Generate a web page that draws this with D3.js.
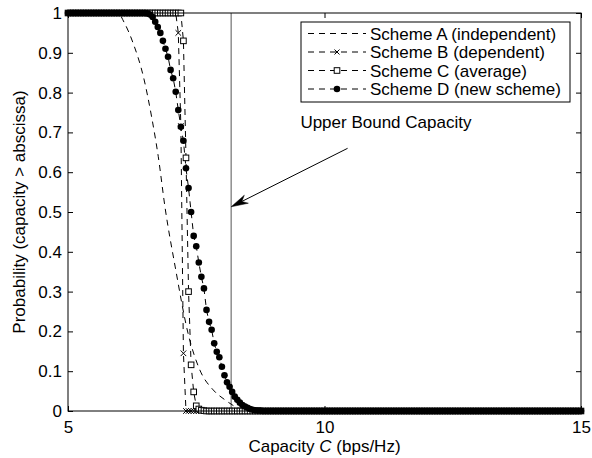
<!DOCTYPE html>
<html>
<head>
<meta charset="utf-8">
<script src="https://cdn.jsdelivr.net/npm/d3@7"></script>
<style>
  html, body { margin: 0; padding: 0; background: #fff; }
  svg { display: block; }
  text { font-family: "Liberation Sans", Arial, Helvetica, sans-serif; fill: #000; }
</style>
</head>
<body>
<svg id="chart" width="592" height="458"></svg>
<script>
// Capacity sampling grid (bps/Hz), 0.05 spacing from 5 to 15
const capStart = 5, capStepSize = 0.05;

// Scheme A (independent): smooth analytic curve, sampled points
const capA  = [5, 5.5, 5.97, 6.1, 6.27, 6.47, 6.63, 6.76, 6.89, 7.09, 7.35, 7.57, 7.83, 8.06, 8.26, 8.45, 8.6, 10, 15];
const probA = [1, 1, 1, 0.975, 0.924, 0.84, 0.739, 0.639, 0.513, 0.362, 0.19, 0.103, 0.053, 0.028, 0.011, 0.002, 0, 0, 0];

// Scheme B (dependent), one value per grid point
const probB = [
  1,1,1,1,1,1,1,1,1,1,            // 5.00 - 5.45
  1,1,1,1,1,1,1,1,1,1,            // 5.50 - 5.95
  1,1,1,1,1,1,1,1,1,1,            // 6.00 - 6.45
  1,1,1,1,1,1,1,1,1,1,            // 6.50 - 6.95
  1,1,1,0.95,0.716,0.145,0,0,0,0, // 7.00 - 7.45
  0,0,0,0,0,0,0,0,0,0, 0,0,0,0,0,0,0,0,0,0, 0,0,0,0,0,0,0,0,0,0,
  0,0,0,0,0,0,0,0,0,0, 0,0,0,0,0,0,0,0,0,0, 0,0,0,0,0,0,0,0,0,0,
  0,0,0,0,0,0,0,0,0,0, 0,0,0,0,0,0,0,0,0,0, 0,0,0,0,0,0,0,0,0,0,
  0,0,0,0,0,0,0,0,0,0, 0,0,0,0,0,0,0,0,0,0, 0,0,0,0,0,0,0,0,0,0,
  0,0,0,0,0,0,0,0,0,0, 0,0,0,0,0,0,0,0,0,0, 0,0,0,0,0,0,0,0,0,0,
  0                               // 15.00
];

// Scheme C (average)
const probC = [
  1,1,1,1,1,1,1,1,1,1,
  1,1,1,1,1,1,1,1,1,1,
  1,1,1,1,1,1,1,1,1,1,
  1,1,1,1,1,1,1,1,1,1,
  1,1,1,1,1,0.93,0.636,0.30,0.116,0.048,   // 7.00 - 7.45
  0.013,0.005,0.002,0.001,0,0,0,0,0,0,     // 7.50 - 7.95
  0,0,0,0,0,0,0,0,0,0, 0,0,0,0,0,0,0,0,0,0, 0,0,0,0,0,0,0,0,0,0,
  0,0,0,0,0,0,0,0,0,0, 0,0,0,0,0,0,0,0,0,0, 0,0,0,0,0,0,0,0,0,0,
  0,0,0,0,0,0,0,0,0,0, 0,0,0,0,0,0,0,0,0,0, 0,0,0,0,0,0,0,0,0,0,
  0,0,0,0,0,0,0,0,0,0, 0,0,0,0,0,0,0,0,0,0, 0,0,0,0,0,0,0,0,0,0,
  0,0,0,0,0,0,0,0,0,0, 0,0,0,0,0,0,0,0,0,0,
  0
];

// Scheme D (new scheme)
const probD = [
  1,1,1,1,1,1,1,1,1,1,
  1,1,1,1,1,1,1,1,1,1,
  1,1,1,1,1,1,1,1,1,1,
  1,0.999,0.996,0.99,0.978,0.965,0.95,0.93,0.91,0.89,             // 6.50 - 6.95
  0.857,0.836,0.802,0.756,0.714,0.679,0.61,0.56,0.50,0.44,        // 7.00 - 7.45
  0.414,0.373,0.337,0.308,0.254,0.224,0.204,0.17,0.149,0.135,     // 7.50 - 7.95
  0.111,0.09,0.072,0.061,0.048,0.036,0.028,0.021,0.015,0.011,     // 8.00 - 8.45
  0.008,0.005,0.003,0.002,0.001,0.001,0,0,0,0,                    // 8.50 - 8.95
  0,0,0,0,0,0,0,0,0,0, 0,0,0,0,0,0,0,0,0,0, 0,0,0,0,0,0,0,0,0,0,
  0,0,0,0,0,0,0,0,0,0, 0,0,0,0,0,0,0,0,0,0, 0,0,0,0,0,0,0,0,0,0,
  0,0,0,0,0,0,0,0,0,0, 0,0,0,0,0,0,0,0,0,0, 0,0,0,0,0,0,0,0,0,0,
  0,0,0,0,0,0,0,0,0,0, 0,0,0,0,0,0,0,0,0,0, 0,0,0,0,0,0,0,0,0,0,
  0
];

const upperBound = 8.18;

const seriesNames = [
  "Scheme A (independent)",
  "Scheme B (dependent)",
  "Scheme C (average)",
  "Scheme D (new scheme)"
];

const xTicks = [5, 10, 15];
const xTickLabels = ["5", "10", "15"];
const yTicks = [0, 0.1, 0.2, 0.3, 0.4, 0.5, 0.6, 0.7, 0.8, 0.9, 1];
const yTickLabels = ["0", "0.1", "0.2", "0.3", "0.4", "0.5", "0.6", "0.7", "0.8", "0.9", "1"];

// ---------------------------------------------------------------
const svg = d3.select("#chart");
const plot = { left: 68, top: 13, right: 581, bottom: 411 };
const fontSize = 17;

const x = d3.scaleLinear().domain([5, 15]).range([plot.left, plot.right]);
const y = d3.scaleLinear().domain([0, 1]).range([plot.bottom, plot.top]);

const toPoints = vals => vals.map((p, i) => ({ c: capStart + i * capStepSize, p }));
const ptsA = capA.map((c, i) => ({ c, p: probA[i] }));
const ptsB = toPoints(probB);
const ptsC = toPoints(probC);
const ptsD = toPoints(probD);

const dash = "6,5";
const lineStraight = d3.line().x(d => x(d.c)).y(d => y(d.p));
const lineSmooth = d3.line().x(d => x(d.c)).y(d => y(d.p)).curve(d3.curveMonotoneX);

// Axes (inward ticks on all four sides)
const gLeft = svg.append("g").attr("transform", `translate(${plot.left},0)`)
  .call(d3.axisLeft(y).tickValues(yTicks).tickFormat((d, i) => yTickLabels[i])
    .tickSizeInner(-5).tickSizeOuter(0).tickPadding(6));
const gRight = svg.append("g").attr("transform", `translate(${plot.right},0)`)
  .call(d3.axisRight(y).tickValues(yTicks).tickFormat("").tickSizeInner(-5).tickSizeOuter(0));
const gBottom = svg.append("g").attr("transform", `translate(0,${plot.bottom})`)
  .call(d3.axisBottom(x).tickValues(xTicks).tickFormat((d, i) => xTickLabels[i])
    .tickSizeInner(-5).tickSizeOuter(0).tickPadding(10));
const gTop = svg.append("g").attr("transform", `translate(0,${plot.top})`)
  .call(d3.axisTop(x).tickValues(xTicks).tickFormat("").tickSizeInner(-5).tickSizeOuter(0));

[gLeft, gRight, gBottom, gTop].forEach(g => {
  g.select(".domain").remove();
  g.selectAll("line").attr("stroke", "#000").attr("stroke-width", 1);
  g.selectAll("text").attr("font-size", fontSize).attr("font-family", "Liberation Sans, Arial, sans-serif").attr("fill", "#000");
});
gBottom.selectAll("text").attr("dy", "0.71em");

// Upper bound vertical line
svg.append("line")
  .attr("x1", x(upperBound)).attr("x2", x(upperBound))
  .attr("y1", y(1)).attr("y2", y(0))
  .attr("stroke", "#555").attr("stroke-width", 1);

// Curves
const curves = svg.append("g").attr("fill", "none").attr("stroke", "#000").attr("stroke-width", 1)
  .attr("stroke-dasharray", dash);
curves.append("path").attr("d", lineSmooth(ptsA));
curves.append("path").attr("d", lineStraight(ptsB));
curves.append("path").attr("d", lineStraight(ptsC));
curves.append("path").attr("d", lineStraight(ptsD));

// Markers
function crossMarker(g, cx, cy, s) {
  g.append("path").attr("d", `M${cx - s},${cy - s}L${cx + s},${cy + s}M${cx - s},${cy + s}L${cx + s},${cy - s}`)
    .attr("stroke", "#000").attr("stroke-width", 1).attr("fill", "none");
}
function squareMarker(g, cx, cy, s) {
  g.append("rect").attr("x", cx - s).attr("y", cy - s).attr("width", 2 * s).attr("height", 2 * s)
    .attr("fill", "#fff").attr("stroke", "#000").attr("stroke-width", 1);
}
function dotMarker(g, cx, cy, r) {
  g.append("circle").attr("cx", cx).attr("cy", cy).attr("r", r).attr("fill", "#000");
}

const mB = svg.append("g");
ptsB.forEach(d => crossMarker(mB, x(d.c), y(d.p), 2.8));
const mC = svg.append("g");
ptsC.forEach(d => squareMarker(mC, x(d.c), y(d.p), 2.8));
const mD = svg.append("g");
ptsD.forEach(d => dotMarker(mD, x(d.c), y(d.p), 3.3));

// Plot frame
svg.append("rect")
  .attr("x", plot.left).attr("y", plot.top)
  .attr("width", plot.right - plot.left).attr("height", plot.bottom - plot.top)
  .attr("fill", "none").attr("stroke", "#000").attr("stroke-width", 1);

// Legend
const legend = { x0: 301, y0: 22, x1: 570, y1: 102 };
svg.append("rect")
  .attr("x", legend.x0).attr("y", legend.y0)
  .attr("width", legend.x1 - legend.x0).attr("height", legend.y1 - legend.y0)
  .attr("fill", "#fff").attr("stroke", "#000").attr("stroke-width", 1);

const rowY = [33.5, 52, 70.5, 89];
const sampleX0 = 308, sampleX1 = 366, sampleMid = (sampleX0 + sampleX1) / 2;
seriesNames.forEach((name, i) => {
  const g = svg.append("g");
  g.append("line").attr("x1", sampleX0).attr("x2", sampleX1).attr("y1", rowY[i]).attr("y2", rowY[i])
    .attr("stroke", "#000").attr("stroke-width", 1).attr("stroke-dasharray", dash);
  if (i === 1) crossMarker(g, sampleMid, rowY[i], 2.5);
  if (i === 2) squareMarker(g, sampleMid, rowY[i], 2.8);
  if (i === 3) dotMarker(g, sampleMid, rowY[i], 3.3);
  g.append("text").attr("x", 370).attr("y", rowY[i]).attr("dy", "0.36em")
    .attr("font-size", fontSize).text(name);
});

// Annotation with arrow
const annoText = { c: 9.53, p: 0.711 };
const arrowTail = { c: 10.45, p: 0.66 };
const arrowTip = { c: upperBound, p: 0.513 };
svg.append("text").attr("x", x(annoText.c)).attr("y", y(annoText.p))
  .attr("font-size", fontSize).text("Upper Bound Capacity");

const tx = x(arrowTip.c), ty = y(arrowTip.p);
const sx = x(arrowTail.c), sy = y(arrowTail.p);
const len = Math.hypot(sx - tx, sy - ty);
const ux = (sx - tx) / len, uy = (sy - ty) / len;
const nx = -uy, ny = ux;
const L = 17, W = 4.5, notch = 12;
svg.append("line").attr("x1", sx).attr("y1", sy).attr("x2", tx + ux * notch).attr("y2", ty + uy * notch)
  .attr("stroke", "#000").attr("stroke-width", 1);
svg.append("path")
  .attr("d", `M${tx},${ty}L${tx + ux * L + nx * W},${ty + uy * L + ny * W}L${tx + ux * notch},${ty + uy * notch}L${tx + ux * L - nx * W},${ty + uy * L - ny * W}Z`)
  .attr("fill", "#000").attr("stroke", "#000").attr("stroke-width", 0.5);

// Axis titles
const xTitle = svg.append("text").attr("x", (plot.left + plot.right) / 2).attr("y", 452)
  .attr("text-anchor", "middle").attr("font-size", fontSize);
xTitle.append("tspan").text("Capacity ");
xTitle.append("tspan").attr("font-style", "italic").text("C");
xTitle.append("tspan").text(" (bps/Hz)");

svg.append("text")
  .attr("transform", `translate(25,${(plot.top + plot.bottom) / 2}) rotate(-90)`)
  .attr("text-anchor", "middle").attr("font-size", fontSize)
  .text("Probability (capacity > abscissa)");
</script>
</body>
</html>
